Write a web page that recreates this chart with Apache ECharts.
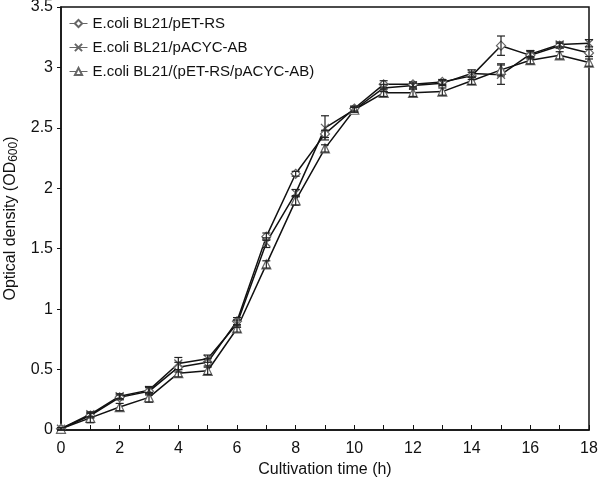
<!DOCTYPE html>
<html><head><meta charset="utf-8">
<script src="https://cdn.jsdelivr.net/npm/echarts@6/dist/echarts.min.js"></script>
<style>html,body{margin:0;padding:0;background:#fff}#c{width:600px;height:482px}</style>
</head><body><div id="c"></div>
<script>
var times = [0,1,2,3,4,5,6,7,8,9,10,11,12,13,14,15,16,17,18];
var seriesNames = ['E.coli BL21/pET-RS','E.coli BL21/pACYC-AB','E.coli BL21/(pET-RS/pACYC-AB)'];
var odA = [0.01,0.12,0.27,0.32,0.52,0.56,0.90,1.60,2.12,2.45,2.66,2.86,2.86,2.88,2.93,3.18,3.10,3.18,3.12];
var odB = [0.01,0.13,0.28,0.33,0.55,0.59,0.88,1.55,1.96,2.50,2.65,2.83,2.85,2.87,2.95,2.94,3.11,3.19,3.20];
var odC = [0.01,0.10,0.19,0.27,0.47,0.49,0.84,1.37,1.90,2.33,2.65,2.79,2.79,2.80,2.89,2.98,3.06,3.10,3.04];
var errA = [0.01,0.02,0.02,0.03,0.04,0.03,0.03,0.03,0.02,0.03,0.02,0.03,0.02,0.02,0.03,0.08,0.03,0.02,0.03];
var errB = [0.01,0.02,0.02,0.03,0.05,0.03,0.03,0.04,0.03,0.10,0.02,0.03,0.02,0.02,0.03,0.08,0.03,0.02,0.03];
var errC = [0.01,0.04,0.03,0.04,0.03,0.03,0.03,0.03,0.04,0.03,0.02,0.03,0.03,0.03,0.03,0.05,0.03,0.03,0.03];
var yTicks = [0,0.5,1,1.5,2,2.5,3,3.5];

var FONT = 'Liberation Sans, Arial, sans-serif';
var crossPath = 'path://M0,0L10,10M10,0L0,10';

function pts(vals){ return times.map(function(t,i){ return [t, vals[i]]; }); }
function errPts(vals, errs){ return times.map(function(t,i){ return [t, vals[i]-errs[i], vals[i]+errs[i]]; }); }

function errRender(params, api){
  var x = api.value(0), lo = api.value(1), hi = api.value(2);
  var p1 = api.coord([x, lo]), p2 = api.coord([x, hi]);
  var w = 4;
  var st = {stroke:'#222', lineWidth:1.2};
  return {type:'group', children:[
    {type:'line', shape:{x1:p1[0],y1:p1[1],x2:p2[0],y2:p2[1]}, style:st},
    {type:'line', shape:{x1:p1[0]-w,y1:p1[1],x2:p1[0]+w,y2:p1[1]}, style:st},
    {type:'line', shape:{x1:p2[0]-w,y1:p2[1],x2:p2[0]+w,y2:p2[1]}, style:st}
  ]};
}

function lineSeries(name, vals, symbol, size){
  return {
    name:name, type:'line', data:pts(vals), symbol:symbol, symbolSize:size,
    showAllSymbol:true, z:3,
    lineStyle:{color:'#111', width:1.5},
    itemStyle:{color:'#fff', borderColor:'#666', borderWidth:1.2},
    emphasis:{disabled:true}
  };
}
function crossSeries(name, vals){
  return {
    name:name, type:'line', data:pts(vals), symbol:crossPath, symbolSize:8,
    showAllSymbol:true, z:3,
    lineStyle:{color:'#111', width:1.5},
    itemStyle:{color:'rgba(0,0,0,0)', borderColor:'#666', borderWidth:1.3},
    emphasis:{disabled:true}
  };
}
function errSeries(vals, errs){
  return {type:'custom', renderItem:errRender, data:errPts(vals, errs), z:4, silent:true,
    encode:{x:0, y:[1,2]}};
}

var chart = echarts.init(document.getElementById('c'));
chart.setOption({
  animation:false,
  backgroundColor:'#fff',
  grid:{left:61, right:11, top:7, bottom:52, show:true, borderColor:'#111', borderWidth:1.5,
    backgroundColor:'transparent', containLabel:false, outerBoundsMode:'none'},
  legend:{
    orient:'vertical', left:64, top:11, itemGap:9, itemWidth:18, itemHeight:9,
    lineStyle:{color:'#666', width:1},
    textStyle:{fontFamily:FONT, fontSize:15, color:'#111'},
    data:seriesNames
  },
  xAxis:{
    type:'value', min:0, max:18, interval:1,
    axisLine:{show:true, lineStyle:{color:'#111', width:1.5}},
    axisTick:{show:true, inside:true, length:5, lineStyle:{color:'#111'}},
    splitLine:{show:false},
    axisLabel:{fontFamily:FONT, fontSize:16, color:'#111', margin:11,
      formatter:function(v){ return v % 2 === 0 ? String(v) : ''; }},
    name:'Cultivation time (h)', nameLocation:'middle', nameGap:32,
    nameTextStyle:{fontFamily:FONT, fontSize:16, color:'#111'}
  },
  yAxis:{
    type:'value', min:0, max:3.5, interval:0.5,
    axisLine:{show:true, lineStyle:{color:'#111', width:1.5}},
    axisTick:{show:true, inside:false, length:4, lineStyle:{color:'#111'}},
    splitLine:{show:false},
    axisLabel:{fontFamily:FONT, fontSize:16, color:'#111', margin:8,
      formatter:function(v){ return yTicks.indexOf(v) >= 0 ? String(v) : ''; }},
    name:'{a|Optical density (OD}{b|600}{a|)}', nameLocation:'middle', nameGap:40, nameRotate:90,
    nameTextStyle:{rich:{
      a:{fontFamily:FONT, fontSize:16, color:'#111'},
      b:{fontFamily:FONT, fontSize:12, color:'#111', verticalAlign:'bottom', padding:[6,0,0,0]}
    }}
  },
  series:[
    lineSeries(seriesNames[0], odA, 'diamond', 9),
    crossSeries(seriesNames[1], odB),
    lineSeries(seriesNames[2], odC, 'triangle', 9),
    errSeries(odA, errA),
    errSeries(odB, errB),
    errSeries(odC, errC)
  ]
});
</script></body></html>
